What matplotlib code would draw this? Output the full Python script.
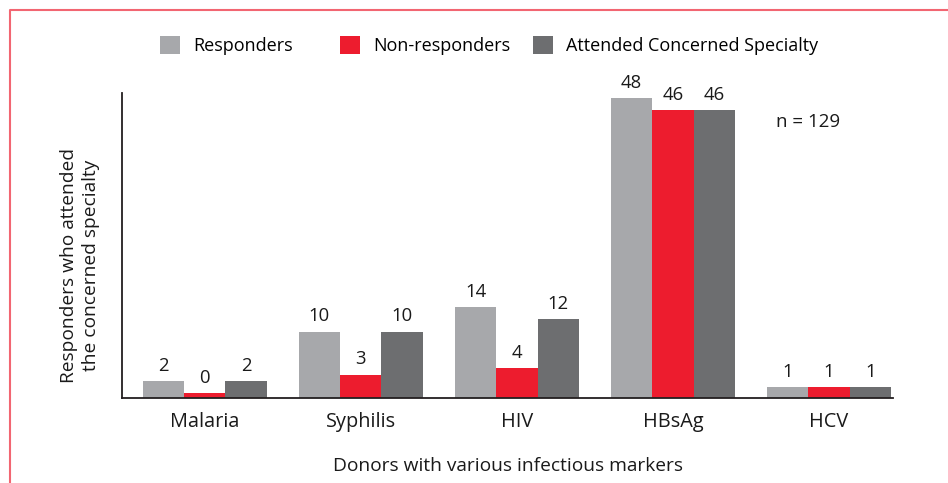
"""Grouped bar chart: donors with infectious markers and specialty attendance."""

import numpy as np
import matplotlib.pyplot as plt
from matplotlib.lines import Line2D
from matplotlib.patches import Patch

plt.rcParams['font.family'] = ['Open Sans', 'DejaVu Sans']

categories = ['Malaria', 'Syphilis', 'HIV', 'HBsAg', 'HCV']
responders = [2, 10, 14, 48, 1]
non_responders = [0, 3, 4, 46, 1]
attended = [2, 10, 12, 46, 1]
series_names = ['Responders', 'Non-responders', 'Attended Concerned Specialty']

colors = ['#A7A8AB', '#ED1C2E', '#6D6E70']
text_color = '#1a1a1a'
base = -0.8  # bars start slightly below zero so the 0 bar stays visible

fig = plt.figure(figsize=(9.48, 4.83), dpi=100)
ax = fig.add_axes([0.1287, 0.176, 0.8133, 0.631])

x = np.arange(len(categories))
width = 0.265
series = [responders, non_responders, attended]
for i, (vals, col) in enumerate(zip(series, colors)):
    pos = x + (i - 1) * width
    vals = np.array(vals, dtype=float)
    ax.bar(pos, vals - base, bottom=base, width=width, color=col, linewidth=0)
    for p, v in zip(pos, vals):
        ax.text(p, v + 1.0, f'{int(v)}', ha='center', va='bottom',
                fontsize=13.3, color=text_color)

ax.set_xlim(-0.53, 4.41)
ax.set_ylim(base, 48.8)
ax.set_xticks(x)
ax.set_xticklabels(categories, fontsize=14.3, color=text_color)
ax.set_yticks([])
ax.tick_params(axis='x', length=0, pad=10)
for side in ['top', 'right']:
    ax.spines[side].set_visible(False)
for side in ['left', 'bottom']:
    ax.spines[side].set_color('#231F20')
    ax.spines[side].set_linewidth(1.3)

ax.set_xlabel('Donors with various infectious markers', fontsize=13.8,
              color=text_color, labelpad=18)
ax.set_ylabel('Responders who attended\nthe concerned specialty', fontsize=13.8,
              color=text_color, linespacing=1.25)
ax.yaxis.set_label_coords(-0.029, 0.436)

ax.text(0.89, 0.905, 'n = 129', transform=ax.transAxes, fontsize=13.5,
        color=text_color, ha='center', va='center')

# legend entries sit at uneven spacing in the original, so one legend each
legend_x = [160 / 948, 340 / 948, 533 / 948]
for name, col, lx in zip(series_names, colors, legend_x):
    fig.legend([Patch(facecolor=col, edgecolor='none')], [name],
               loc='center left', bbox_to_anchor=(lx, 0.905), frameon=False,
               fontsize=13, handlelength=1.1, handleheight=1.1,
               handletextpad=0.72, borderpad=0, borderaxespad=0)

# pink frame on the left and top edges
fx = 10 / 948
fy = 1 - 10 / 483
fig.add_artist(Line2D([fx, fx, 1], [0, fy, fy], transform=fig.transFigure,
                      color='#F26672', linewidth=1.5))

fig.savefig('out.png', dpi=100)
